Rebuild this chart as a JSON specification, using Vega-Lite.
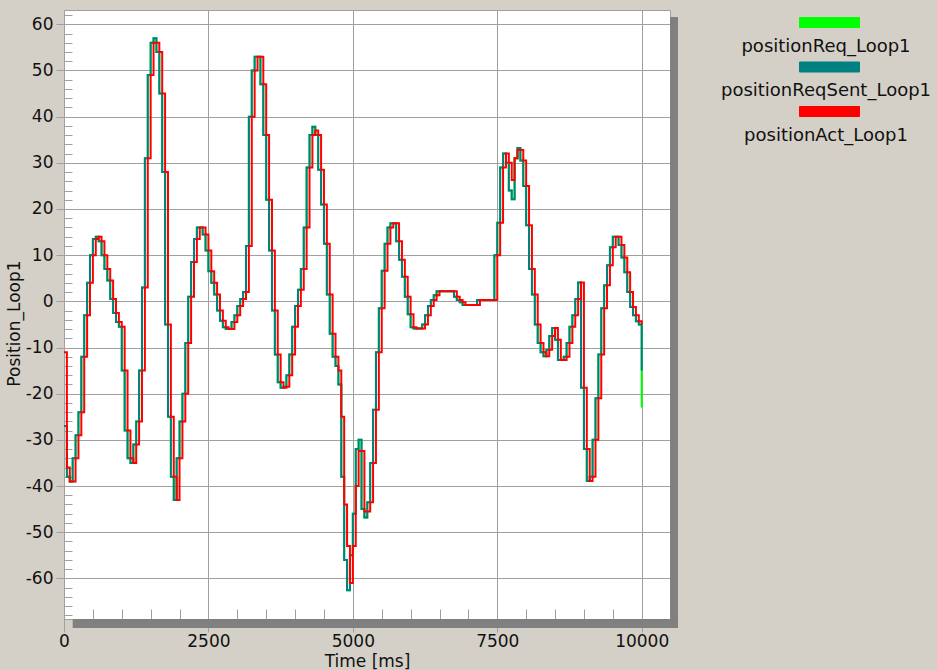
{
 "$schema": "https://vega.github.io/schema/vega-lite/v6.json",
 "width": 606, "height": 609,
 "autosize": {"type": "none"},
 "padding": {"left": 64, "top": 10, "right": 267, "bottom": 51},
 "background": "#d4d0c8",
 "config": {"view": {"fill": "#ffffff", "stroke": "#a0a0a0", "strokeWidth": 1}},
 "layer": [
  {"data": {"values": [{}]}, "mark": {"type": "rect", "color": "#808080"},
   "encoding": {"x": {"datum": 10490, "type": "quantitative"}, "x2": {"datum": 10629}, "y": {"datum": 61.6, "type": "quantitative"}, "y2": {"datum": -70.75}}},
  {"data": {"values": [{}]}, "mark": {"type": "rect", "color": "#808080"},
   "encoding": {"x": {"datum": 150, "type": "quantitative"}, "x2": {"datum": 10629}, "y": {"datum": -68.8, "type": "quantitative"}, "y2": {"datum": -70.75}}},
  {"data": {"values": [
{"t":0,"g":-27,"s":-27,"a":-11},{"t":50,"g":-38,"s":-38,"a":-36},{"t":100,"g":-39,"s":-39,"a":-39},{"t":150,"g":-34,"s":-34,"a":-39},
{"t":200,"g":-29,"s":-29,"a":-34},{"t":250,"g":-24,"s":-24,"a":-29},{"t":300,"g":-12,"s":-12,"a":-24},{"t":350,"g":-3,"s":-3,"a":-12},
{"t":400,"g":4,"s":4,"a":-3},{"t":450,"g":10,"s":10,"a":4},{"t":500,"g":13.5,"s":13.5,"a":10},{"t":550,"g":14,"s":14,"a":13.5},
{"t":600,"g":13,"s":13,"a":14},{"t":650,"g":10,"s":10,"a":13},{"t":700,"g":7,"s":7,"a":10},{"t":750,"g":4.5,"s":4.5,"a":7},
{"t":800,"g":0.5,"s":0.5,"a":4.5},{"t":850,"g":-2.5,"s":-2.5,"a":0.5},{"t":900,"g":-4.5,"s":-4.5,"a":-2.5},{"t":950,"g":-5.5,"s":-5.5,"a":-4.5},
{"t":1000,"g":-15,"s":-15,"a":-5.5},{"t":1050,"g":-28,"s":-28,"a":-15},{"t":1100,"g":-34,"s":-34,"a":-28},{"t":1150,"g":-35,"s":-35,"a":-34},
{"t":1200,"g":-31,"s":-31,"a":-35},{"t":1250,"g":-26,"s":-26,"a":-31},{"t":1300,"g":-15,"s":-15,"a":-26},{"t":1350,"g":3,"s":3,"a":-15},
{"t":1400,"g":31,"s":31,"a":3},{"t":1450,"g":49,"s":49,"a":31},{"t":1500,"g":56,"s":56,"a":49},{"t":1550,"g":57,"s":57,"a":56},
{"t":1600,"g":54,"s":54,"a":56},{"t":1650,"g":45,"s":45,"a":54},{"t":1700,"g":28,"s":28,"a":45},{"t":1750,"g":-5,"s":-5,"a":28},
{"t":1800,"g":-25,"s":-25,"a":-5},{"t":1850,"g":-38,"s":-38,"a":-25},{"t":1900,"g":-43,"s":-43,"a":-38},{"t":1950,"g":-34,"s":-34,"a":-43},
{"t":2000,"g":-26,"s":-26,"a":-34},{"t":2050,"g":-20,"s":-20,"a":-26},{"t":2100,"g":-9,"s":-9,"a":-20},{"t":2150,"g":1,"s":1,"a":-9},
{"t":2200,"g":8.5,"s":8.5,"a":1},{"t":2250,"g":13.5,"s":13.5,"a":8.5},{"t":2300,"g":16,"s":16,"a":13.5},{"t":2350,"g":16,"s":16,"a":16},
{"t":2400,"g":14.5,"s":14.5,"a":16},{"t":2450,"g":11,"s":11,"a":14.5},{"t":2500,"g":6.5,"s":6.5,"a":11},{"t":2550,"g":4,"s":4,"a":6.5},
{"t":2600,"g":1.5,"s":1.5,"a":4},{"t":2650,"g":-2,"s":-2,"a":1.5},{"t":2700,"g":-4.2,"s":-4.2,"a":-2},{"t":2750,"g":-5.6,"s":-5.6,"a":-4.2},
{"t":2800,"g":-6,"s":-6,"a":-5.6},{"t":2850,"g":-6,"s":-6,"a":-6},{"t":2900,"g":-4.5,"s":-4.5,"a":-6},{"t":2950,"g":-3,"s":-3,"a":-4.5},
{"t":3000,"g":-1,"s":-1,"a":-3},{"t":3050,"g":0.5,"s":0.5,"a":-1},{"t":3100,"g":2,"s":2,"a":0.5},{"t":3150,"g":12,"s":12,"a":2},
{"t":3200,"g":40,"s":40,"a":12},{"t":3250,"g":50,"s":50,"a":40},{"t":3300,"g":53,"s":53,"a":50},{"t":3350,"g":53,"s":53,"a":53},
{"t":3400,"g":47,"s":47,"a":53},{"t":3450,"g":36,"s":36,"a":47},{"t":3500,"g":22,"s":22,"a":36},{"t":3550,"g":11,"s":11,"a":22},
{"t":3600,"g":-2,"s":-2,"a":11},{"t":3650,"g":-11.5,"s":-11.5,"a":-2},{"t":3700,"g":-17.5,"s":-17.5,"a":-11.5},{"t":3750,"g":-18.7,"s":-18.7,"a":-17.5},
{"t":3800,"g":-18.5,"s":-18.5,"a":-18.7},{"t":3850,"g":-16,"s":-16,"a":-18.5},{"t":3900,"g":-11.5,"s":-11.5,"a":-16},{"t":3950,"g":-5.5,"s":-5.5,"a":-11.5},
{"t":4000,"g":-1,"s":-1,"a":-5.5},{"t":4050,"g":2.5,"s":2.5,"a":-1},{"t":4100,"g":7,"s":7,"a":2.5},{"t":4150,"g":16,"s":16,"a":7},
{"t":4200,"g":29,"s":29,"a":16},{"t":4250,"g":36,"s":36,"a":29},{"t":4300,"g":37.8,"s":37.8,"a":36},{"t":4350,"g":36,"s":36,"a":37},
{"t":4400,"g":28.5,"s":28.5,"a":36},{"t":4450,"g":21,"s":21,"a":28.5},{"t":4500,"g":12.5,"s":12.5,"a":21},{"t":4550,"g":1.5,"s":1.5,"a":12.5},
{"t":4600,"g":-7,"s":-7,"a":1.5},{"t":4650,"g":-12,"s":-12,"a":-7},{"t":4700,"g":-14,"s":-14,"a":-12},{"t":4750,"g":-18,"s":-18,"a":-15},
{"t":4800,"g":-38,"s":-38,"a":-25},{"t":4850,"g":-56,"s":-56,"a":-44},{"t":4900,"g":-62.6,"s":-62.6,"a":-53},{"t":4950,"g":-55,"s":-55,"a":-61},
{"t":5000,"g":-46,"s":-46,"a":-53},{"t":5050,"g":-32,"s":-32,"a":-40},{"t":5100,"g":-30,"s":-30,"a":-32.4},{"t":5150,"g":-45,"s":-45,"a":-32.4},
{"t":5200,"g":-46.8,"s":-46.8,"a":-45.5},{"t":5250,"g":-43.5,"s":-43.5,"a":-45.5},{"t":5300,"g":-35,"s":-35,"a":-43.5},{"t":5350,"g":-23.5,"s":-23.5,"a":-35},
{"t":5400,"g":-11,"s":-11,"a":-23.5},{"t":5450,"g":-1.5,"s":-1.5,"a":-11},{"t":5500,"g":6.6,"s":6.6,"a":-1.5},{"t":5550,"g":12.5,"s":12.5,"a":6.6},
{"t":5600,"g":16,"s":16,"a":12.5},{"t":5650,"g":16.9,"s":16.9,"a":16},{"t":5700,"g":16.9,"s":16.9,"a":16.9},{"t":5750,"g":13,"s":13,"a":16.9},
{"t":5800,"g":9,"s":9,"a":13},{"t":5850,"g":5.3,"s":5.3,"a":9},{"t":5900,"g":1,"s":1,"a":5.3},{"t":5950,"g":-2.8,"s":-2.8,"a":1},
{"t":6000,"g":-5.6,"s":-5.6,"a":-2.8},{"t":6050,"g":-5.9,"s":-5.9,"a":-5.6},{"t":6100,"g":-5.9,"s":-5.9,"a":-5.9},{"t":6150,"g":-5.9,"s":-5.9,"a":-5.9},
{"t":6200,"g":-5,"s":-5,"a":-5.9},{"t":6250,"g":-3,"s":-3,"a":-5},{"t":6300,"g":-1,"s":-1,"a":-3},{"t":6350,"g":0.3,"s":0.3,"a":-1},
{"t":6400,"g":1.3,"s":1.3,"a":0.3},{"t":6450,"g":2.2,"s":2.2,"a":1.3},{"t":6500,"g":2.2,"s":2.2,"a":2.2},{"t":6550,"g":2.2,"s":2.2,"a":2.2},
{"t":6600,"g":2.2,"s":2.2,"a":2.2},{"t":6650,"g":2.2,"s":2.2,"a":2.2},{"t":6700,"g":2.2,"s":2.2,"a":2.2},{"t":6750,"g":1,"s":1,"a":2.2},
{"t":6800,"g":0.3,"s":0.3,"a":1},{"t":6850,"g":-0.2,"s":-0.2,"a":0.3},{"t":6900,"g":-0.8,"s":-0.8,"a":-0.2},{"t":6950,"g":-0.8,"s":-0.8,"a":-0.8},
{"t":7000,"g":-0.8,"s":-0.8,"a":-0.8},{"t":7050,"g":-0.8,"s":-0.8,"a":-0.8},{"t":7100,"g":-0.8,"s":-0.8,"a":-0.8},{"t":7150,"g":0.3,"s":0.3,"a":-0.8},
{"t":7200,"g":0.3,"s":0.3,"a":0.3},{"t":7250,"g":0.3,"s":0.3,"a":0.3},{"t":7300,"g":0.3,"s":0.3,"a":0.3},{"t":7350,"g":0.3,"s":0.3,"a":0.3},
{"t":7400,"g":0.3,"s":0.3,"a":0.3},{"t":7450,"g":10,"s":10,"a":0.3},{"t":7500,"g":17,"s":17,"a":10},{"t":7550,"g":29,"s":29,"a":17},
{"t":7600,"g":32,"s":32,"a":29},{"t":7650,"g":30,"s":30,"a":32},{"t":7700,"g":24,"s":24,"a":30},{"t":7750,"g":22.1,"s":22.1,"a":26.3},
{"t":7800,"g":31,"s":31,"a":31},{"t":7850,"g":33.2,"s":33.2,"a":32.8},{"t":7900,"g":30.5,"s":30.5,"a":32.8},{"t":7950,"g":25,"s":25,"a":30.5},
{"t":8000,"g":16.5,"s":16.5,"a":25},{"t":8050,"g":7,"s":7,"a":16.5},{"t":8100,"g":1.5,"s":1.5,"a":7},{"t":8150,"g":-5,"s":-5,"a":1.5},
{"t":8200,"g":-9,"s":-9,"a":-5},{"t":8250,"g":-11,"s":-11,"a":-9},{"t":8300,"g":-11.9,"s":-11.9,"a":-11},{"t":8350,"g":-10.5,"s":-10.5,"a":-11.9},
{"t":8400,"g":-7.5,"s":-7.5,"a":-10.5},{"t":8450,"g":-5.8,"s":-5.8,"a":-7.5},{"t":8500,"g":-8.3,"s":-8.3,"a":-5.8},{"t":8550,"g":-12.7,"s":-12.7,"a":-8.3},
{"t":8600,"g":-12.7,"s":-12.7,"a":-12.7},{"t":8650,"g":-12,"s":-12,"a":-12.7},{"t":8700,"g":-9,"s":-9,"a":-12},{"t":8750,"g":-5.5,"s":-5.5,"a":-9},
{"t":8800,"g":-3,"s":-3,"a":-5.5},{"t":8850,"g":0.5,"s":0.5,"a":-3},{"t":8900,"g":4.1,"s":4.1,"a":0.5},{"t":8950,"g":-18.7,"s":-18.7,"a":4.1},
{"t":9000,"g":-32,"s":-32,"a":-18.7},{"t":9050,"g":-38.9,"s":-38.9,"a":-32},{"t":9100,"g":-38,"s":-38,"a":-38.9},{"t":9150,"g":-30,"s":-30,"a":-38},
{"t":9200,"g":-21,"s":-21,"a":-30},{"t":9250,"g":-11.5,"s":-11.5,"a":-21},{"t":9300,"g":-1.5,"s":-1.5,"a":-11.5},{"t":9350,"g":3.5,"s":3.5,"a":-1.5},
{"t":9400,"g":7.8,"s":7.8,"a":3.5},{"t":9450,"g":11.7,"s":11.7,"a":7.8},{"t":9500,"g":14,"s":14,"a":11.7},{"t":9550,"g":14,"s":14,"a":14},
{"t":9600,"g":12.2,"s":12.2,"a":14},{"t":9650,"g":9.5,"s":9.5,"a":12.2},{"t":9700,"g":6.3,"s":6.3,"a":9.5},{"t":9750,"g":2,"s":2,"a":6.3},
{"t":9800,"g":-1.2,"s":-1.2,"a":2},{"t":9850,"g":-3,"s":-3,"a":-1.2},{"t":9900,"g":-4.3,"s":-4.3,"a":-3},{"t":9950,"g":-5,"s":-5,"a":-4.3},
{"t":10000,"g":-23,"s":-15,"a":-5}
  ]},
   "transform": [{"fold": ["g", "s", "a"], "as": ["series", "value"]}],
   "mark": {"type": "line", "interpolate": "step-after", "strokeWidth": 2},
   "encoding": {
    "x": {"field": "t", "type": "quantitative", "scale": {"domain": [0, 10490], "nice": false, "zero": false},
      "axis": {"values": [0,500,1000,1500,2000,2500,3000,3500,4000,4500,5000,5500,6000,6500,7000,7500,8000,8500,9000,9500,10000], "tickCount": 100,
        "title": "Time [ms]", "titleFont": "DejaVu Sans", "titleFontSize": 17, "titleFontWeight": "normal", "titleColor": "#111111", "titleY": 42, "titleBaseline": "middle",
        "labelExpr": "datum.value % 2500 == 0 ? '' + datum.value : ''",
        "labelFont": "DejaVu Sans", "labelFontSize": 17, "labelColor": "#111111", "labelPadding": 1, "labelOverlap": false, "labelFlush": false, "labelBound": false,
        "tickSize": {"condition": {"test": "datum.value % 2500 == 0", "value": 13}, "value": -10},
        "tickColor": "#a0a0a0", "tickWidth": 1, "domain": false,
        "grid": true, "gridColor": "#a0a0a0", "gridWidth": 1,
        "gridOpacity": {"condition": {"test": "datum.value % 2500 == 0", "value": 1}, "value": 0}}},
    "y": {"field": "value", "type": "quantitative", "scale": {"domain": [-68.8, 63.1], "nice": false, "zero": false},
      "axis": {"values": [-68,-66,-64,-62,-60,-58,-56,-54,-52,-50,-48,-46,-44,-42,-40,-38,-36,-34,-32,-30,-28,-26,-24,-22,-20,-18,-16,-14,-12,-10,-8,-6,-4,-2,0,2,4,6,8,10,12,14,16,18,20,22,24,26,28,30,32,34,36,38,40,42,44,46,48,50,52,54,56,58,60,62], "tickCount": 200,
        "title": "Position_Loop1", "titleFont": "DejaVu Sans", "titleFontSize": 17, "titleFontWeight": "normal", "titleColor": "#111111",
        "titleX": -50, "titleY": 313, "titleAngle": 270, "titleAlign": "center", "titleBaseline": "middle",
        "labelExpr": "datum.value % 10 == 0 ? '' + datum.value : ''",
        "labelFont": "DejaVu Sans", "labelFontSize": 17, "labelColor": "#111111", "labelPadding": 3, "labelOverlap": false, "labelFlush": false, "labelBound": false,
        "tickSize": {"condition": {"test": "datum.value % 10 == 0", "value": 8}, "value": -8},
        "tickColor": "#a0a0a0", "tickWidth": 1, "domainColor": "#a0a0a0",
        "grid": true, "gridColor": "#a0a0a0", "gridWidth": 1,
        "gridOpacity": {"condition": {"test": "datum.value % 10 == 0", "value": 1}, "value": 0}}},
    "color": {"field": "series", "type": "nominal",
      "scale": {"domain": ["g", "s", "a"], "range": ["#00ff00", "#008080", "#ff0000"]},
      "legend": {"orient": "none", "legendX": 755, "legendY": 2, "title": null, "direction": "vertical", "padding": 0,
        "symbolType": "M-3,-0.5H3V0.5H-3Z", "symbolSize": 400, "symbolStrokeWidth": 1,
        "labelAlign": "center", "labelOffset": -14, "labelFont": "DejaVu Sans", "labelFontSize": 18, "labelColor": "#111111", "labelLimit": 400,
        "rowPadding": 0.5,
        "labelExpr": "datum.value == 'g' ? 'positionReq_Loop1' : datum.value == 's' ? 'positionReqSent_Loop1' : 'positionAct_Loop1'",
        "encode": {"symbols": {"update": {"fill": {"scale": "color", "field": "value"}, "stroke": {"value": "#8c8c8c"}, "strokeWidth": {"value": 1}, "opacity": {"value": 1}}},
                   "labels": {"update": {"dy": {"value": 24}}}}}}
   }}
 ]
}
